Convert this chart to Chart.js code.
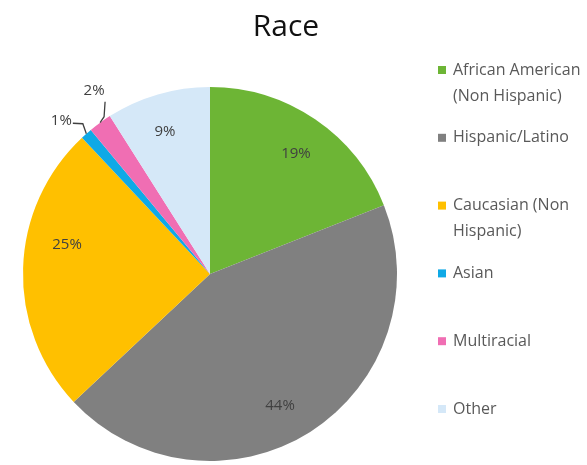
<!DOCTYPE html>
<html>
<head>
<meta charset="utf-8">
<script src="https://cdn.jsdelivr.net/npm/chart.js@4.4.0/dist/chart.umd.min.js"></script>
<style>
  html, body { margin: 0; padding: 0; background: #ffffff; }
  #wrap { width: 587px; height: 465px; position: relative; }
</style>
</head>
<body>
<div id="wrap"><canvas id="raceChart" width="587" height="465"></canvas></div>
<script>
// Share of respondents by race (percent)
const chartTitle = 'Race';
const categories = [
  'African American (Non Hispanic)',
  'Hispanic/Latino',
  'Caucasian (Non Hispanic)',
  'Asian',
  'Multiracial',
  'Other'
];
const shares = [19, 44, 25, 1, 2, 9];
const sliceColors = ['#6db535', '#808080', '#ffc000', '#0fa9e6', '#f06eb3', '#d5e8f8'];

// Where each percentage sits: inside slices at a fraction of the radius
// (with a small angular nudge in degrees), or outside with a leader line.
const labelPlacement = [
  { r: 0.79, nudge: 1.4 },
  { r: 0.80, nudge: 4.5 },
  { r: 0.78, nudge: 9.7 },
  { outside: true, path: [[-3.5, -10], [-13.5, -10.5]], text: [-1, -2], align: 'right' },
  { outside: true, path: [[4, -6], [5, -21]], text: [-11, -11], align: 'center' },
  { r: 0.80, nudge: -1.3 }
];

const FONT = '"Open Sans", "Noto Sans", sans-serif';

const decorations = {
  id: 'decorations',
  afterDraw(chart) {
    const ctx = chart.ctx;
    const meta = chart.getDatasetMeta(0);
    ctx.save();

    // Title
    ctx.fillStyle = '#111111';
    ctx.font = '30px ' + FONT;
    ctx.textAlign = 'center';
    ctx.textBaseline = 'middle';
    ctx.fillText(chartTitle, 286, 27);

    // Percentage labels
    ctx.font = '15px ' + FONT;
    ctx.fillStyle = '#404040';
    meta.data.forEach((arc, i) => {
      const p = arc.getProps(['x', 'y', 'startAngle', 'endAngle', 'outerRadius'], true);
      const mid = (p.startAngle + p.endAngle) / 2;
      const txt = shares[i] + '%';
      const place = labelPlacement[i];
      if (!place.outside) {
        const a = mid + place.nudge * Math.PI / 180;
        const rr = p.outerRadius * place.r;
        ctx.textAlign = 'center';
        ctx.fillText(txt, p.x + rr * Math.cos(a), p.y + rr * Math.sin(a));
      } else {
        const ex = p.x + p.outerRadius * Math.cos(mid);
        const ey = p.y + p.outerRadius * Math.sin(mid);
        ctx.strokeStyle = '#404040';
        ctx.lineWidth = 1.3;
        ctx.beginPath();
        ctx.moveTo(ex, ey);
        let lx = ex, ly = ey;
        place.path.forEach(([dx, dy]) => { lx = ex + dx; ly = ey + dy; ctx.lineTo(lx, ly); });
        ctx.stroke();
        ctx.textAlign = place.align;
        ctx.fillText(txt, lx + place.text[0], ly + place.text[1]);
      }
    });

    // Legend on the right
    const boxX = 438, textX = 453, maxW = 587 - textX;
    const firstY = 70, step = 67.8, lineH = 26;
    ctx.font = '16px ' + FONT;
    ctx.textAlign = 'left';
    ctx.textBaseline = 'middle';
    categories.forEach((name, i) => {
      const y = firstY + i * step;
      ctx.fillStyle = sliceColors[i];
      ctx.fillRect(boxX, y - 4, 8, 8);
      // word wrap
      const words = name.split(' ');
      const lines = [];
      let cur = '';
      words.forEach(w => {
        const test = cur ? cur + ' ' + w : w;
        if (cur && ctx.measureText(test).width > maxW) { lines.push(cur); cur = w; }
        else cur = test;
      });
      if (cur) lines.push(cur);
      ctx.fillStyle = '#595959';
      lines.forEach((ln, k) => ctx.fillText(ln, textX, y + k * lineH));
    });

    ctx.restore();
  }
};

new Chart(document.getElementById('raceChart'), {
  type: 'pie',
  data: {
    labels: categories,
    datasets: [{
      data: shares,
      backgroundColor: sliceColors,
      borderWidth: 0
    }]
  },
  options: {
    responsive: false,
    animation: false,
    layout: { padding: { left: 23, right: 190, top: 87, bottom: 4 } },
    plugins: {
      legend: { display: false },
      title: { display: false },
      tooltip: { enabled: false }
    }
  },
  plugins: [decorations]
});
</script>
</body>
</html>
